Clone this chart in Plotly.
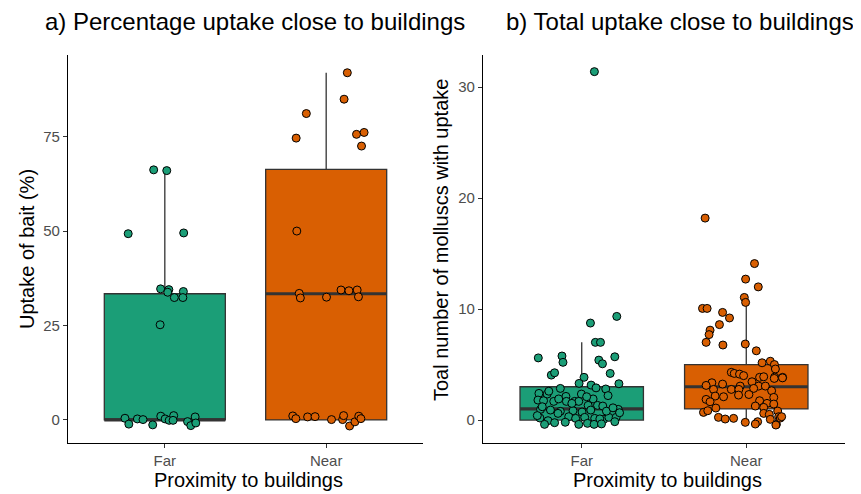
import plotly.graph_objects as go

# ---------------- data ----------------
categories = ["Far", "Near"]
cat_pos = [1, 2]

# panel a: percentage uptake (jittered points)
far_pct = [66.2, 66.0, 49.3, 49.5, 34.7, 34.5, 33.8, 32.4, 34.0, 32.4, 25.2,
           0.45, -1.1, 0.27, 0.1, -1.3, 1.0, 0.27, -0.1, 1.15, -0.1, -0.44, -1.5, 0.8, -0.8]
far_pct_dx = [-0.069, 0.012, -0.227, 0.117, -0.026, 0.025, 0.018, 0.059, 0.115, 0.112, -0.029,
              -0.247, -0.223, -0.17, -0.135, -0.075, -0.025, 0.002, 0.027, 0.055, 0.051, 0.141, 0.161, 0.188, 0.192]
near_pct = [91.9, 84.9, 81.1, 74.6, 75.6, 76.1, 72.5, 50.0, 33.5, 32.3, 32.5, 34.4, 34.2, 34.4, 32.6,
            1.06, 0.35, 0.8, 0.88, 0.1, 0.1, 1.15, -1.6, -0.5, 1.0, 0.35]
near_pct_dx = [0.131, 0.111, -0.123, -0.186, 0.188, 0.235, 0.219, -0.182, -0.167, -0.16, 0.002, 0.092, 0.141, 0.192, 0.2,
               -0.207, -0.188, -0.115, -0.069, 0.033, 0.102, 0.108, 0.145, 0.178, 0.202, 0.215]

# panel a box statistics [Far, Near]
pct_q1 = [0, 0]
pct_median = [0, 33.4]
pct_q3 = [33.4, 66.3]
pct_lower = [0, 0]
pct_upper = [66.0, 91.9]

# panel b: total number (jittered points)
far_tot = [31.4, 9.34, 8.74, 7.0, 7.0, 5.6, 5.77, 5.2, 5.4, 5.07, 5.7, 4.05, 4.26, 4.2, 3.85, 3.3, 2.85, 3.15,
           2.9, 2.8, 3.27, 2.4, 2.34, 2.13, 2.34, 1.9, 1.8, 1.74, 1.68, 1.68, 1.68, 1.68, 1.32, 1.32, 1.26,
           0.96, 0.9, 0.78, 0.84, 0.72, 0.9, 0.96, 0.18, -0.06, 0.6, 0.3, 0.15, 0.24, 0.15, 0.06, 0.24, 0.24,
           -0.39, -0.24, -0.39, -0.3, -0.39, -0.15, 0.66,
           1.2, 0.8, 2.1, 1.5, 0.1, 2.6, -0.2, 1.1, 0.4, 2.2, 1.9, -0.35]
far_tot_dx = [0.077, 0.213, 0.053, 0.083, 0.114, -0.264, -0.12, -0.114, 0.104, 0.126, 0.201, -0.185, -0.165, 0.173,
              0.014, -0.016, -0.13, 0.057, 0.087, 0.146, 0.226, -0.26, -0.21, -0.096, -0.002, 0.069, -0.266, -0.232,
              -0.17, -0.093, -0.043, -0.018, 0.039, 0.096, 0.128, -0.25, -0.19, -0.13, -0.053, 0.002, 0.055, 0.222,
              -0.254, -0.205, -0.144, -0.079, -0.037, 0.018, 0.079, 0.134, 0.165, 0.209, -0.226, -0.165, -0.018,
              0.035, 0.075, 0.201, 0.23,
              -0.24, 0.15, 0.03, -0.06, 0.11, -0.2, -0.1, 0.19, -0.27, 0.16, -0.14, 0.12]
near_tot = [18.2, 14.1, 12.7, 12.0, 11.05, 10.6, 10.06, 10.06, 9.7, 9.2, 8.6, 8.1, 7.7, 7.0, 6.76, 6.85, 6.24,
            5.16, 5.3, 5.0, 4.6, 4.3, 4.2, 4.14, 4.0, 3.45, 3.85, 3.9, 3.87, 3.85, 3.36, 3.12, 3.24, 3.06, 3.06,
            3.06, 2.76, 2.76, 2.76, 2.85, 2.64, 2.16, 2.1, 2.25, 2.3, 2.04, 1.86, 1.65, 1.74, 1.5, 1.44, 1.08,
            1.26, 1.14, 0.69, 0.84, 0.6, 0.51, 0.81, 0.24, 0.09, 0.15, -0.21, -0.15, 0.06, 0.3, -0.39, -0.36,
            0.18, -0.45, 0.3, 3.8, 3.75]
near_tot_dx = [-0.25, 0.05, -0.004, 0.073, -0.012, -0.004, -0.266, -0.238, -0.144, -0.102, -0.163, -0.22, -0.226,
               -0.244, -0.142, -0.006, 0.061, 0.096, 0.146, 0.171, 0.177, -0.091, -0.073, -0.041, -0.016, 0.035,
               0.081, 0.106, 0.173, 0.221, -0.209, -0.244, -0.144, -0.037, 0.075, 0.116, -0.199, -0.091, -0.045,
               0.045, 0.154, -0.189, -0.138, -0.047, 0.016, 0.167, -0.244, -0.22, 0.081, 0.126, 0.167, -0.185,
               0.055, 0.106, -0.26, -0.234, 0.106, 0.14, 0.191, -0.169, -0.128, -0.077, -0.006, 0.069, 0.146,
               0.197, 0.183, 0.055, 0.207, 0.18, 0.215, 0.22, 0.17]

# panel b box statistics [Far, Near]
tot_q1 = [0, 1]
tot_median = [1, 3]
tot_q3 = [3, 5]
tot_lower = [0, 0]
tot_upper = [7, 11]

pct_ticks = [0, 25, 50, 75]
tot_ticks = [0, 10, 20, 30]

titles = ["a) Percentage uptake close to buildings", "b) Total uptake close to buildings"]
x_title = "Proximity to buildings"
y_titles = ["Uptake of bait (%)", "Toal number of molluscs with uptake"]

# ---------------- style ----------------
colors = ["#1b9e77", "#d95f02"]
box_w = 0.75
FONT = "Liberation Sans, Arial, sans-serif"
OFF = 8                      # page body margin in the browser
W, H = 861 - OFF, 494 - OFF


def fx(X):
    return (X - OFF) / W


def fy(Y):
    return 1 - (Y - OFF) / H


fig = go.Figure()


def add_panel(xa, ya, q1, med, q3, lo, hi, pts):
    for i, c in enumerate(cat_pos):
        fig.add_trace(go.Box(
            x=[c], q1=[q1[i]], median=[med[i]], q3=[q3[i]],
            lowerfence=[lo[i]], upperfence=[hi[i]],
            width=box_w, whiskerwidth=0, fillcolor=colors[i],
            line=dict(color="#333333", width=1.3), boxpoints=False,
            xaxis=xa, yaxis=ya, showlegend=False, hoverinfo="skip"))
        fig.add_trace(go.Scatter(
            x=[c - box_w / 2, c + box_w / 2], y=[med[i], med[i]], mode="lines",
            line=dict(color="#333333", width=3.2), xaxis=xa, yaxis=ya,
            showlegend=False, hoverinfo="skip"))
    for i, (yy, dx) in enumerate(pts):
        fig.add_trace(go.Scatter(
            x=[cat_pos[i] + d for d in dx], y=yy, mode="markers",
            marker=dict(size=8, color=colors[i], line=dict(color="black", width=1)),
            xaxis=xa, yaxis=ya, showlegend=False, hoverinfo="skip"))


add_panel("x", "y", pct_q1, pct_median, pct_q3, pct_lower, pct_upper,
          [(far_pct, far_pct_dx), (near_pct, near_pct_dx)])
add_panel("x2", "y2", tot_q1, tot_median, tot_q3, tot_lower, tot_upper,
          [(far_tot, far_tot_dx), (near_tot, near_tot_dx)])

xd1 = [fx(68), fx(423)]
xd2 = [fx(483), fx(845)]
yd = [fy(443), fy(55)]

axis_common = dict(showline=True, linecolor="black", linewidth=1.3, ticks="outside",
                   ticklen=4, tickcolor="#333333", tickwidth=1.1, showgrid=False,
                   zeroline=False, automargin=False,
                   tickfont=dict(family=FONT, size=15, color="#4d4d4d"))

fig.update_layout(
    width=W, height=H, autosize=False,
    margin=dict(l=0, r=0, t=0, b=0),
    paper_bgcolor="white", plot_bgcolor="white",
    showlegend=False,
    xaxis=dict(domain=xd1, range=[0.4, 2.6], tickvals=cat_pos, ticktext=categories,
               anchor="y", **axis_common),
    yaxis=dict(domain=yd, range=[-6.1, 96.6], tickvals=pct_ticks, anchor="x", **axis_common),
    xaxis2=dict(domain=xd2, range=[0.4, 2.6], tickvals=cat_pos, ticktext=categories,
                anchor="y2", **axis_common),
    yaxis2=dict(domain=yd, range=[-2.07, 32.9], tickvals=tot_ticks, anchor="x2", **axis_common),
)

ann = []
ann.append(dict(text=titles[0], x=fx(255), y=fy(22), xref="paper", yref="paper",
                showarrow=False, font=dict(family=FONT, size=24, color="black"),
                xanchor="center", yanchor="middle"))
ann.append(dict(text=titles[1], x=fx(680), y=fy(22), xref="paper", yref="paper",
                showarrow=False, font=dict(family=FONT, size=24, color="black"),
                xanchor="center", yanchor="middle"))
for xc in [(68 + 423) / 2 + 3, (483 + 845) / 2 + 3]:
    ann.append(dict(text=x_title, x=fx(xc), y=fy(480), xref="paper", yref="paper",
                    showarrow=False, font=dict(family=FONT, size=20, color="black"),
                    xanchor="center", yanchor="middle"))
ann.append(dict(text=y_titles[0], x=fx(27), y=fy(249), xref="paper", yref="paper",
                showarrow=False, textangle=-90, font=dict(family=FONT, size=20, color="black"),
                xanchor="center", yanchor="middle"))
ann.append(dict(text=y_titles[1], x=fx(441), y=fy(240), xref="paper", yref="paper",
                showarrow=False, textangle=-90, font=dict(family=FONT, size=20, color="black"),
                xanchor="center", yanchor="middle"))
fig.update_layout(annotations=ann)

fig.write_html("out.html")
